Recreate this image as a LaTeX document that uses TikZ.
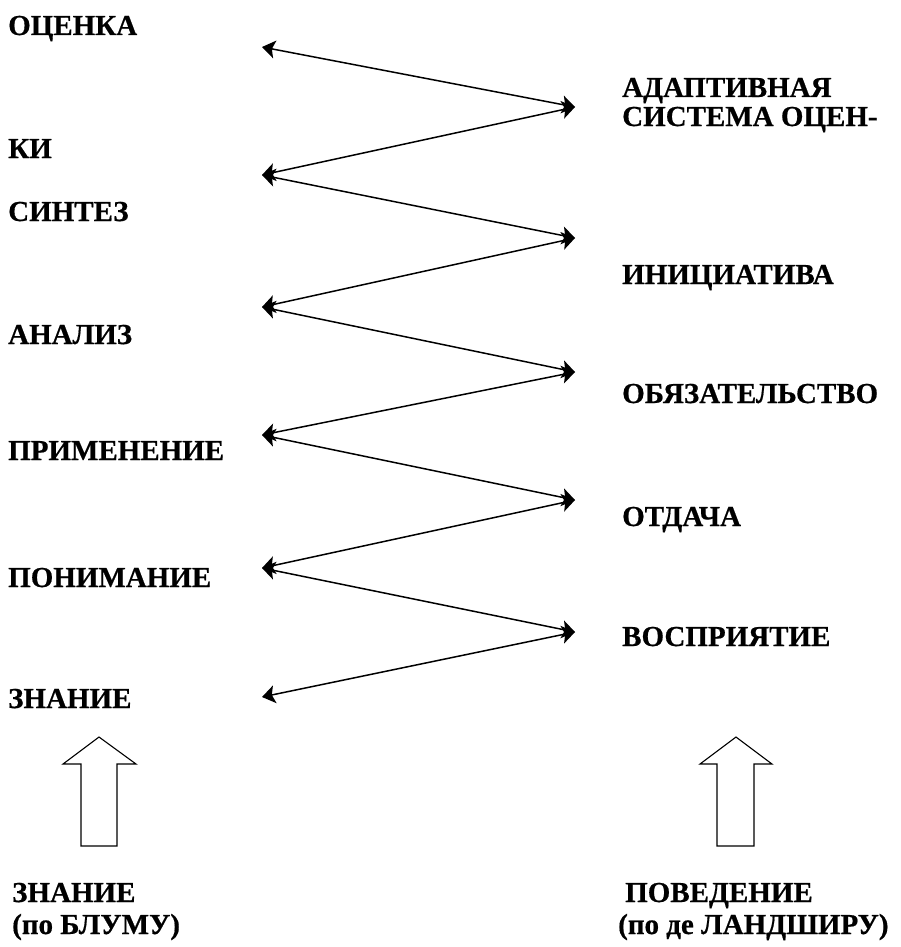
\documentclass[tikz,border=0pt]{standalone}
\usepackage{fontspec}
\setmainfont{Liberation Serif}
\newfontfamily\lblfont{Liberation Serif Bold}[FakeBold=0.6]
\usetikzlibrary{arrows.meta}
\begin{document}
\begin{tikzpicture}[x=1pt,y=-1pt,
  lbl/.style={anchor=base west,inner sep=0pt,font=\lblfont\fontsize{29}{31}\selectfont,align=left},
  dbl/.style={line width=1.5pt,{Stealth[length=13pt,width=18pt,inset=3pt]}-{Stealth[length=13pt,width=18pt,inset=3pt]}},
  blockarrow/.style={line width=1.1pt,line join=miter}]
\useasboundingbox (0,0) rectangle (900,947);
% left labels
\node[lbl] (ocenka) at (8,35) {ОЦЕНКА};
\node[lbl] (ki) at (8,158) {КИ};
\node[lbl] (sintez) at (8,221) {СИНТЕЗ};
\node[lbl] (analiz) at (8,344) {АНАЛИЗ};
\node[lbl] (primenenie) at (8,460) {ПРИМЕНЕНИЕ};
\node[lbl] (ponimanie) at (8,587) {ПОНИМАНИЕ};
\node[lbl] (znanie) at (8,708) {ЗНАНИЕ};
% right labels
\node[lbl] (adapt) at (622,97) {АДАПТИВНАЯ};
\node[lbl] (sistema) at (622,126) {СИСТЕМА ОЦЕН-};
\node[lbl] (iniciativa) at (622,284) {ИНИЦИАТИВА};
\node[lbl] (obyaz) at (622,403) {ОБЯЗАТЕЛЬСТВО};
\node[lbl] (otdacha) at (622,526) {ОТДАЧА};
\node[lbl] (vospr) at (622,646) {ВОСПРИЯТИЕ};
% zigzag points
\coordinate (L1) at (262,47);
\coordinate (L2) at (262,175);
\coordinate (L3) at (262,307);
\coordinate (L4) at (262,435);
\coordinate (L5) at (262,568);
\coordinate (L6) at (262,697);
\coordinate (R1) at (575,107);
\coordinate (R2) at (575,238);
\coordinate (R3) at (575,372);
\coordinate (R4) at (575,500);
\coordinate (R5) at (575,632);
\draw[dbl] (L1) -- (R1);
\draw[dbl] (R1) -- (L2);
\draw[dbl] (L2) -- (R2);
\draw[dbl] (R2) -- (L3);
\draw[dbl] (L3) -- (R3);
\draw[dbl] (R3) -- (L4);
\draw[dbl] (L4) -- (R4);
\draw[dbl] (R4) -- (L5);
\draw[dbl] (L5) -- (R5);
\draw[dbl] (R5) -- (L6);
% block arrows
\draw[blockarrow] (81,846) -- (81,764) -- (63,764) -- (99,737) -- (136,764) -- (117,764) -- (117,846) -- cycle;
\draw[blockarrow] (717,846) -- (717,764) -- (700,764) -- (736,737) -- (772,764) -- (754,764) -- (754,846) -- cycle;
% bottom labels
\node[lbl] (bznanie) at (12,934) {ЗНАНИЕ\\[1pt](по БЛУМУ)};
\node[lbl] (bpoved) at (618,934) {\hspace*{7pt}ПОВЕДЕНИЕ\\[1pt](по де ЛАНДШИРУ)};
\end{tikzpicture}
\end{document}
